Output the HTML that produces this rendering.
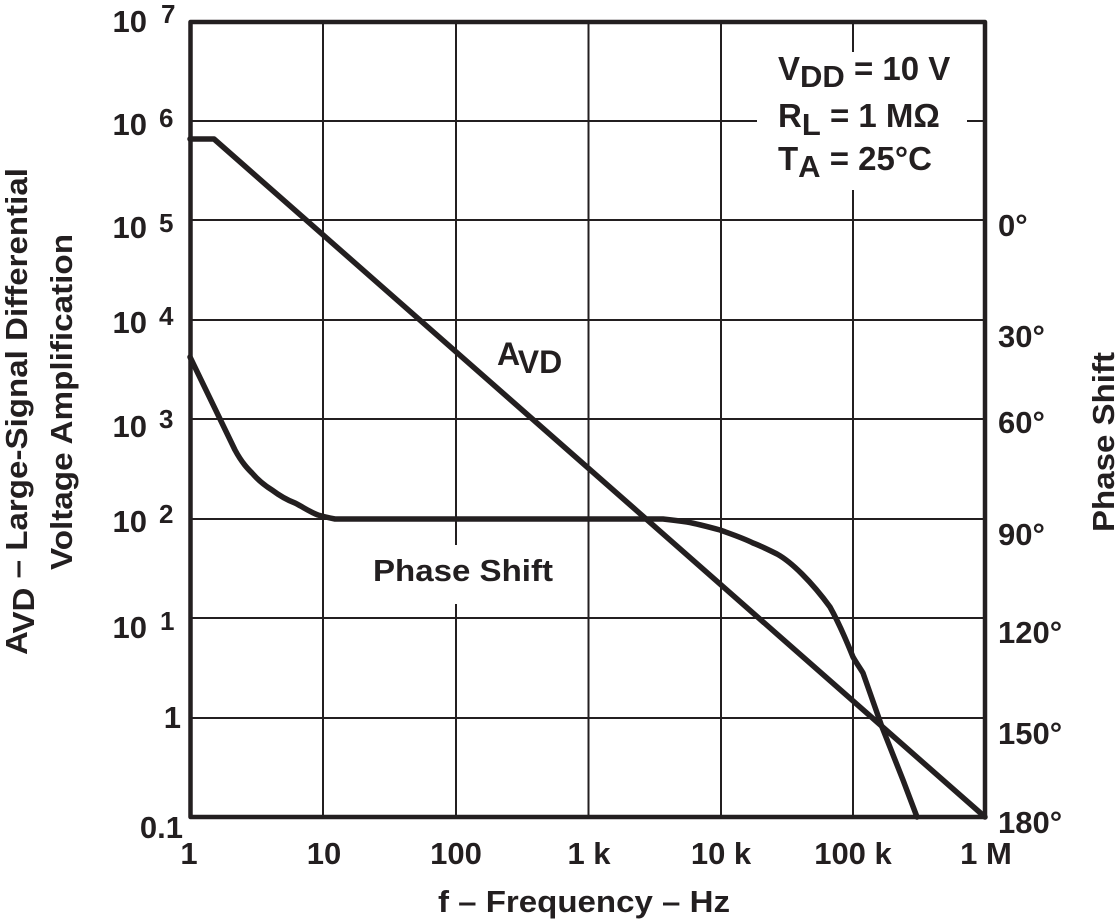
<!DOCTYPE html>
<html>
<head>
<meta charset="utf-8">
<style>
  html,body{margin:0;padding:0;background:#fff;}
  svg{display:block;}
  text{font-family:"Liberation Sans",Arial,sans-serif;font-weight:bold;fill:#231f20;}
</style>
</head>
<body>
<svg width="1116" height="921" viewBox="0 0 1116 921" xmlns="http://www.w3.org/2000/svg">
  <rect x="0" y="0" width="1116" height="921" fill="#fff"/>

  <!-- grid -->
  <g stroke="#231f20" stroke-width="2" fill="none">
    <line x1="323" y1="22" x2="323" y2="817"/>
    <line x1="456" y1="22" x2="456" y2="817"/>
    <line x1="588.5" y1="22" x2="588.5" y2="817"/>
    <line x1="721" y1="22" x2="721" y2="817"/>
    <line x1="853" y1="22" x2="853" y2="817"/>
    <line x1="190" y1="121" x2="985" y2="121"/>
    <line x1="190" y1="220" x2="985" y2="220"/>
    <line x1="190" y1="320" x2="985" y2="320"/>
    <line x1="190" y1="419" x2="985" y2="419"/>
    <line x1="190" y1="519" x2="985" y2="519"/>
    <line x1="190" y1="618" x2="985" y2="618"/>
    <line x1="190" y1="718" x2="985" y2="718"/>
  </g>

  <!-- label knock-outs -->
  <rect x="757" y="52" width="210" height="138" fill="#fff"/>
  <rect x="362" y="545" width="200" height="59" fill="#fff"/>

  <!-- frame -->
  <rect x="190.5" y="22" width="794.5" height="795" fill="none" stroke="#231f20" stroke-width="4.5" stroke-linejoin="round"/>

  <!-- AVD curve -->
  <polyline points="190,139 214,139 985,817" fill="none" stroke="#231f20" stroke-width="5.5" stroke-linejoin="round" stroke-linecap="round"/>

  <!-- Phase curve -->
  <path d="M190,357 L235,450 C242,463 248,469 252,473 C258,480 264,485 272,490 C280,496 287,500 295,503 C303,507 310,512 318,515 C325,517 330,518 335,519 L663,519 C672,520 680,521 687,522 C698,524 709,527 720,530 C731,534 743,538 753,543 C761,546 769,550 777,554 C786,559 794,566 802,574 C812,584 822,596 830,607 C840,625 847,642 853,657 C857,664 860,668 863,673 L882,727 L903,780 L917,817"
        fill="none" stroke="#231f20" stroke-width="5.5" stroke-linejoin="round" stroke-linecap="round"/>

  <!-- left tick labels -->
  <g font-size="31" text-anchor="end">
    <text x="147" y="32">10</text>
    <text x="147" y="135">10</text>
    <text x="147" y="238">10</text>
    <text x="147" y="333">10</text>
    <text x="147" y="437">10</text>
    <text x="147" y="532">10</text>
    <text x="147" y="638">10</text>
    <text x="181" y="728">1</text>
    <text x="183" y="838">0.1</text>
  </g>
  <g font-size="26">
    <text x="161" y="23">7</text>
    <text x="159" y="127">6</text>
    <text x="159" y="232">5</text>
    <text x="159" y="325">4</text>
    <text x="159" y="428">3</text>
    <text x="159" y="523">2</text>
    <text x="160" y="630">1</text>
  </g>

  <!-- bottom tick labels -->
  <g font-size="31" text-anchor="middle">
    <text x="189" y="864">1</text>
    <text x="324" y="864">10</text>
    <text x="456" y="864">100</text>
    <text x="589" y="864">1 k</text>
    <text x="721" y="864">10 k</text>
    <text x="853" y="864">100 k</text>
    <text x="986" y="864">1 M</text>
  </g>

  <!-- right tick labels -->
  <g font-size="31">
    <text x="998" y="236">0°</text>
    <text x="998" y="347">30°</text>
    <text x="998" y="433">60°</text>
    <text x="998" y="545">90°</text>
    <text x="998" y="643">120°</text>
    <text x="998" y="744">150°</text>
    <text x="998" y="833">180°</text>
  </g>

  <!-- conditions box text -->
  <g font-size="33">
    <text x="778" y="80">V<tspan dy="7" font-size="31">DD</tspan><tspan dy="-7"> = 10 V</tspan></text>
    <text x="778" y="127">R<tspan dy="8" font-size="31">L</tspan><tspan dy="-8"> = 1 MΩ</tspan></text>
    <text x="778" y="170">T<tspan dy="7" font-size="31">A</tspan><tspan dy="-7"> = 25°C</tspan></text>
  </g>

  <!-- in-plot labels -->
  <text x="497" y="365" font-size="32">A<tspan dy="8">VD</tspan></text>
  <text x="373" y="581" font-size="31" textLength="180" lengthAdjust="spacingAndGlyphs">Phase Shift</text>

  <!-- axis titles -->
  <text x="438" y="912" font-size="31" textLength="292" lengthAdjust="spacingAndGlyphs">f – Frequency – Hz</text>

  <g transform="translate(27,655) rotate(-90)">
    <text x="0" y="0" font-size="31" textLength="487" lengthAdjust="spacingAndGlyphs">A<tspan dy="7">VD</tspan><tspan dy="-7"> – Large-Signal Differential</tspan></text>
  </g>
  <g transform="translate(72,570) rotate(-90)">
    <text x="0" y="0" font-size="31" textLength="336" lengthAdjust="spacingAndGlyphs">Voltage Amplification</text>
  </g>
  <g transform="translate(1114,532) rotate(-90)">
    <text x="0" y="0" font-size="31" textLength="180" lengthAdjust="spacingAndGlyphs">Phase Shift</text>
  </g>
</svg>
</body>
</html>
